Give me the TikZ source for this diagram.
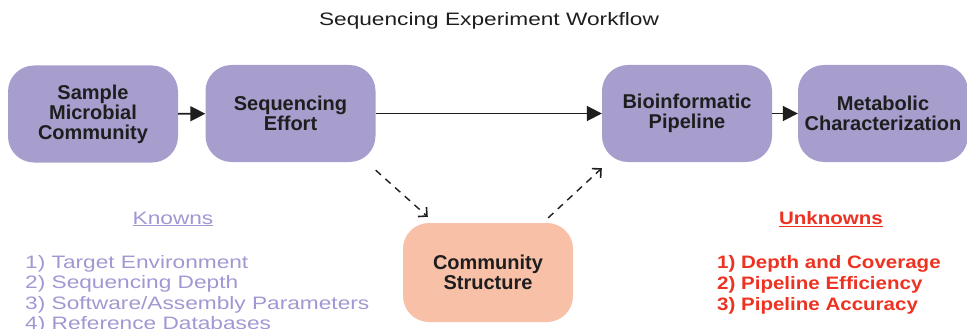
\documentclass[tikz,border=0pt]{standalone}
\usepackage{fontspec}
\setmainfont{Liberation Sans}
\newfontfamily\wideR[FakeStretch=1.26]{Liberation Sans}
\newfontfamily\wideB[FakeStretch=1.14]{Liberation Sans}
\usetikzlibrary{arrows.meta}
\definecolor{lav}{RGB}{167,158,206}
\definecolor{lavtext}{RGB}{160,152,210}
\definecolor{salmon}{RGB}{249,192,168}
\definecolor{unk}{RGB}{238,50,34}
\definecolor{ink}{RGB}{30,30,30}
\tikzset{
  procbox/.style={rectangle, rounded corners=26pt, fill=lav, minimum width=170pt, minimum height=97pt,
    align=center, inner sep=0pt, font=\fontsize{20}{20}\selectfont\bfseries, text=ink},
  structbox/.style={procbox, fill=salmon, minimum height=99pt},
  flow/.style={line width=1.8pt, draw=ink, -{Triangle[length=15pt,width=15pt]}},
  dflow/.style={line width=1.4pt, draw=ink, dash pattern=on 7pt off 6pt, -{Straight Barb[angle=90:9pt, line width=1.6pt]}},
  listtxt/.style={align=left, inner sep=0pt, anchor=north west},
}
\begin{document}
\begin{tikzpicture}[x=1pt, y=-1pt]
\useasboundingbox (0,0) rectangle (967,329);
\node[font=\wideR\fontsize{18}{20}\selectfont, text=ink] (title) at (489,21) {Sequencing Experiment Workflow};
\node[procbox] (A) at (93,114) {Sample\\Microbial\\Community};
\node[procbox] (B) at (290.5,113.5) {Sequencing\\Effort};
\node[procbox] (C) at (687,113.5) {Bioinformatic\\Pipeline};
\node[procbox] (D) at (883,113.5) {Metabolic\\Characterization};
\node[structbox] (E) at (488,272.5) {Community\\Structure};
\draw[flow] (A) -- (B);
\draw[flow] (B) -- (C);
\draw[flow] (C) -- (D);
\draw[dflow] ([shift={(0,8)}]B.south east) -- ([shift={(25,-6)}]E.north west);
\draw[dflow] ([shift={(-25,-5)}]E.north east) -- ([shift={(0,6)}]C.south west);
\node[font=\wideR\fontsize{18}{20}\selectfont, text=lavtext] (kh) at (173,219) {\underline{Knowns}};
\node[listtxt, text=lavtext, font=\wideR\fontsize{18}{20.5}\selectfont] (kl) at (25,255) {1) Target Environment\\2) Sequencing Depth\\3) Software/Assembly Parameters\\4) Reference Databases};
\node[font=\wideB\fontsize{18}{20}\selectfont\bfseries, text=unk] (uh) at (831,219) {\underline{Unknowns}};
\node[listtxt, text=unk, font=\wideB\fontsize{18}{21}\selectfont\bfseries] (ul) at (717,255) {1) Depth and Coverage\\2) Pipeline Efficiency\\3) Pipeline Accuracy};
\end{tikzpicture}
\end{document}
